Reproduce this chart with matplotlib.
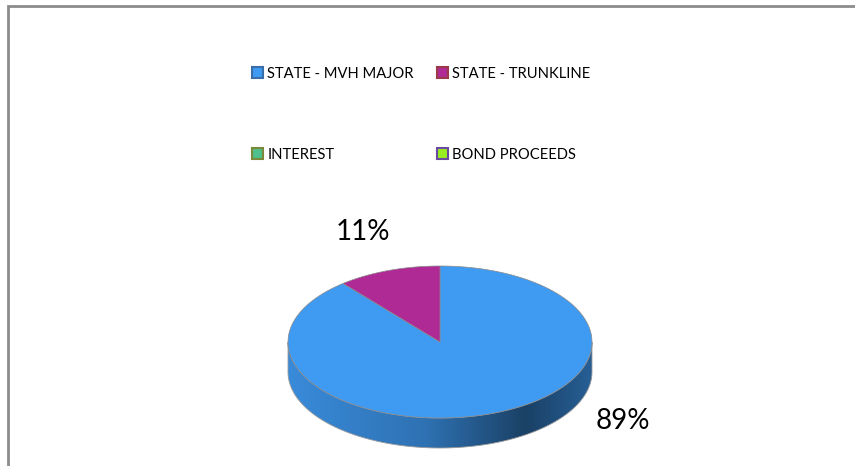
import numpy as np
import matplotlib.pyplot as plt
from matplotlib.patches import Polygon, Rectangle
from matplotlib.colors import LinearSegmentedColormap, to_rgb

plt.rcParams['font.family'] = ['Lato', 'DejaVu Sans']

# funding sources and their share of revenue (%)
sources = ['STATE - MVH MAJOR', 'STATE - TRUNKLINE', 'INTEREST', 'BOND PROCEEDS']
shares = [89, 11, 0, 0]
top_colors = ['#3f9af2', '#b02a96', '#4fc08d', '#99ee22']
key_edges = ['#3a6ea8', '#9a3a48', '#7a8a3a', '#6a4aa0']

W, H = 855, 466
fig = plt.figure(figsize=(W / 100, H / 100), dpi=100)
ax = fig.add_axes([0, 0, 1, 1])

# outer frame (left and top edges only show)
ax.plot([8, 8, W + 10], [H + 10, 6, 6], color='#8c8c8c', lw=2,
        solid_joinstyle='miter', clip_on=False)

# pie geometry in pixels
cx, cy, rx, ry, depth = 440, 342, 152, 76, 30


def rim(a0, a1, dy=0, n=200):
    t = np.radians(np.linspace(a0, a1, n))
    return np.column_stack([cx + rx * np.cos(t), cy - ry * np.sin(t) + dy])


# start at 12 o'clock and go clockwise
total = sum(shares)
ends = 90 - 360 * np.cumsum(shares) / total
starts = np.r_[90, ends[:-1]]

# side wall, only the front half is visible
shade = [0.9, 0.74, 0.42, 0.62]
for s, e, c in zip(starts, ends, top_colors):
    lo, hi = max(e, -180), min(s, 0)
    if hi <= lo:
        continue
    upper = rim(lo, hi)
    lower = rim(hi, lo, dy=depth)
    side = Polygon(np.vstack([upper, lower]), closed=True, fc='none',
                   ec='#9a9a9a', lw=0.6, zorder=2)
    ax.add_patch(side)
    rgb = np.array(to_rgb(c))
    cmap = LinearSegmentedColormap.from_list(
        'side', [(0, rgb * shade[0]), (0.45, rgb * shade[1]),
                 (0.78, rgb * shade[2]), (1, rgb * shade[3])])
    grad = np.linspace(0, 1, 256)[None, :]
    im = ax.imshow(grad, cmap=cmap, aspect='auto', interpolation='bilinear',
                   extent=[cx - rx, cx + rx, cy + ry + depth + 2, cy - ry],
                   zorder=1)
    im.set_clip_path(side)

# top face
for s, e, c in zip(starts, ends, top_colors):
    if s == e:
        continue
    pts = np.vstack([[cx, cy], rim(e, s)])
    ax.add_patch(Polygon(pts, closed=True, fc=c, ec='#8a8a8a', lw=0.5,
                         zorder=3))

# percentage labels
label_nudge = [(131, 7), (-26, -38), (0, 0), (0, 0)]
for s, e, v, (nx, ny) in zip(starts, ends, shares, label_nudge):
    if v == 0:
        continue
    mx, my = rim((s + e) / 2, (s + e) / 2, n=1)[0]
    ax.text(mx + nx, my + ny, f'{v}%', fontsize=20, ha='center',
            va='center', color='black', zorder=4)

ax.set_xlim(0, W)
ax.set_ylim(H, 0)
ax.axis('off')

# key laid out row by row
handles = [Rectangle((0, 0), 1, 1, fc=c, ec=k, lw=1.5)
           for c, k in zip(top_colors, key_edges)]
order = [0, 2, 1, 3]
fig.legend([handles[i] for i in order], [sources[i] for i in order],
           ncol=2, loc='upper left', bbox_to_anchor=(252 / W, 1 - 67 / H),
           frameon=False, fontsize=10.6, handlelength=0.75, handleheight=0.75,
           handletextpad=0.3, labelspacing=4.55, columnspacing=1.55,
           borderpad=0, borderaxespad=0)

fig.savefig('out.png', dpi=100, facecolor='white')
